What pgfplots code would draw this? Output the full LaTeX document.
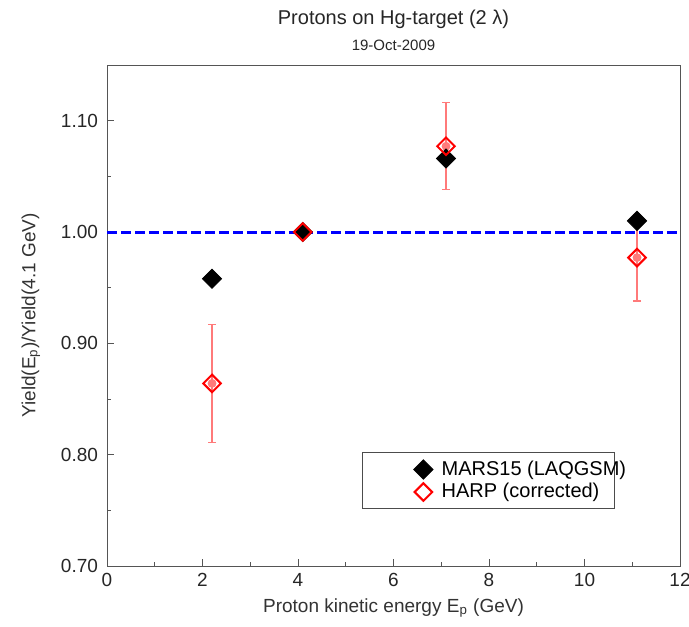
\documentclass[border=0pt]{standalone}
\usepackage{fontspec}
\setmainfont{Liberation Sans}
\usepackage{pgfplots}
\pgfplotsset{compat=1.18}
\definecolor{axgray}{HTML}{555555}
\definecolor{errred}{HTML}{FF7A7A}

\begin{document}
\begin{tikzpicture}
\begin{axis}[
  scale only axis,
  width=286.5pt, height=250.5pt,
  xmin=0, xmax=12, ymin=0.70, ymax=1.15,
  xtick={0,2,...,12},
  ytick={0.70,0.80,...,1.10},
  minor x tick num=1, minor y tick num=1,
  tick pos=left,
  tick align=inside,
  major tick length=3.5pt, minor tick length=2pt,
  axis line style={axgray, line width=0.5pt},
  every tick/.style={axgray, line width=0.5pt},
  /pgf/number format/assume math mode=true,
  yticklabel style={/pgf/number format/fixed, /pgf/number format/fixed zerofill, /pgf/number format/precision=2, xshift=-1pt},
  tick label style={font=\fontsize{9.5}{11}\selectfont, text=black!85},
  xlabel={Proton kinetic energy E\textsubscript{p} (GeV)},
  ylabel={Yield(E\textsubscript{p})/Yield(4.1 GeV)},
  label style={font=\fontsize{9.5}{11}\selectfont, text=black!80},
  xlabel style={yshift=1pt},
  ylabel style={yshift=3.5pt},
  legend style={at={(rel axis cs:0.445,0.227)}, anchor=north west,
    draw=black!70, line width=0.5pt, font=\fontsize{10}{12}\selectfont,
    legend cell align=left, row sep=-1.5pt, inner ysep=2pt, inner xsep=2pt},
  legend image code/.code={\path[draw=none, fill=none] (0,0) -- (1.25cm,0); \draw[#1] plot coordinates {(1.0cm,0cm)};},
  clip=false,
]
% reference line
\addplot[blue, line width=1.5pt, dash pattern=on 5pt off 2pt, forget plot] coordinates {(0,1.0) (12,1.0)};
% HARP error bars
\addplot[only marks, mark=none, errred, forget plot,
  error bars/.cd, y dir=both, y explicit,
  error bar style={errred, line width=0.6pt},
  error mark options={errred, mark size=2pt, rotate=90, line width=0.6pt}]
  coordinates {
  (2.2,0.864) +- (0,0.053)
  (7.1,1.077) +- (0,0.039)
  (11.1,0.977) +- (0,0.039)
};
% MARS15
\addplot[only marks, mark=square*, mark size=3.4pt, mark options={rotate=45, fill=black, draw=black}]
  coordinates {(2.2,0.958) (4.1,1.000) (7.1,1.066) (11.1,1.010)};
% HARP
\addplot[only marks, mark=square, mark size=3.1pt, mark options={rotate=45, draw=red, line width=1pt, fill=none}]
  coordinates {(2.2,0.864) (4.1,1.000) (7.1,1.077) (11.1,0.977)};
\legend{MARS15 (LAQGSM)\hspace*{-10pt}, HARP (corrected)}
\node[font=\fontsize{10}{12}\selectfont, text=black!85] at (rel axis cs:0.5,1) [yshift=23pt] {Protons on Hg-target (2 λ)};
\node[font=\fontsize{7.5}{9}\selectfont, text=black!85] at (rel axis cs:0.5,1) [yshift=10pt] {19-Oct-2009};
\end{axis}
\pgfresetboundingbox
\path (-53.5pt,-30pt) rectangle (291pt,283pt);
\end{tikzpicture}
\end{document}
